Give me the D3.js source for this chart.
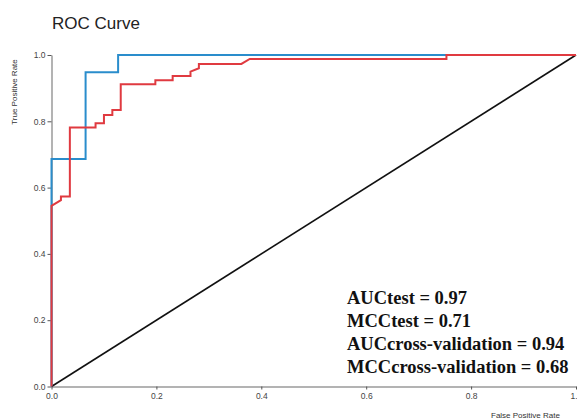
<!DOCTYPE html>
<html>
<head>
<meta charset="utf-8">
<script src="https://cdn.jsdelivr.net/npm/d3@7"></script>
<style>
  body { margin: 0; background: #fff; }
  svg { display: block; }
</style>
</head>
<body>
<svg id="chart" width="577" height="419"></svg>
<script>
// test curve (blue)
const testFpr = [0, 0, 0.065, 0.065, 0.127, 0.127, 1];
const testTpr = [0, 0.686, 0.686, 0.948, 0.948, 1, 1];

// cross-validation curve (red)
const cvFpr = [0, 0, 0.018, 0.018, 0.035, 0.035, 0.084, 0.084, 0.1, 0.1, 0.116, 0.116,
  0.132, 0.132, 0.198, 0.198, 0.231, 0.231, 0.265, 0.265, 0.281, 0.281, 0.362, 0.378,
  0.753, 0.753, 1];
const cvTpr = [0, 0.545, 0.562, 0.573, 0.573, 0.781, 0.781, 0.794, 0.794, 0.819, 0.819, 0.834,
  0.834, 0.912, 0.912, 0.924, 0.924, 0.937, 0.937, 0.95, 0.96, 0.973, 0.973, 0.988,
  0.988, 1, 1];

const xTicks = [0, 0.2, 0.4, 0.6, 0.8, 1];
const yTicks = [0, 0.2, 0.4, 0.6, 0.8, 1];

const metrics = [
  "AUCtest = 0.97",
  "MCCtest = 0.71",
  "AUCcross-validation = 0.94",
  "MCCcross-validation = 0.68"
];

const svg = d3.select("#chart");

const x = d3.scaleLinear().domain([0, 1]).range([51.5, 576]);
const y = d3.scaleLinear().domain([0, 1]).range([386.5, 55]);

svg.append("text")
  .attr("x", 52)
  .attr("y", 29)
  .attr("font-family", "Liberation Sans, Arial, sans-serif")
  .attr("font-size", 17)
  .attr("fill", "#222")
  .text("ROC Curve");

const fmt = d => d === 1 ? "1." : d3.format(".1f")(d);

function styleAxis(g) {
  g.select(".domain").attr("stroke", "#9a9a9a").attr("stroke-width", 1.5);
  g.selectAll(".tick line").attr("stroke", "#555");
  g.selectAll(".tick text")
    .attr("fill", "#444")
    .attr("font-family", "Liberation Sans, Arial, sans-serif")
    .attr("font-size", 8.5);
}

svg.append("g")
  .attr("transform", `translate(0,${y(0)})`)
  .call(d3.axisBottom(x).tickValues(xTicks).tickFormat(fmt).tickSize(3).tickSizeOuter(0).tickPadding(3))
  .call(styleAxis)
  .call(g => g.selectAll(".tick text").filter(d => d === 1).attr("text-anchor", "end").attr("dx", 1));

svg.append("g")
  .attr("transform", `translate(${x(0)},0)`)
  .call(d3.axisLeft(y).tickValues(yTicks).tickFormat(d3.format(".1f")).tickSize(4).tickSizeOuter(0).tickPadding(2))
  .call(styleAxis);

svg.append("text")
  .attr("transform", "translate(17,92) rotate(-90)")
  .attr("text-anchor", "middle")
  .attr("font-family", "Liberation Sans, Arial, sans-serif")
  .attr("font-size", 8)
  .attr("fill", "#333")
  .text("True Positive Rate");

svg.append("text")
  .attr("x", 491)
  .attr("y", 418)
  .attr("font-family", "Liberation Sans, Arial, sans-serif")
  .attr("font-size", 8)
  .attr("fill", "#333")
  .text("False Positive Rate");

// diagonal reference
svg.append("line")
  .attr("x1", x(0)).attr("y1", y(0))
  .attr("x2", x(1)).attr("y2", y(1))
  .attr("stroke", "#111")
  .attr("stroke-width", 1.6);

const line = d3.line().x(d => x(d[0])).y(d => y(d[1]));

svg.append("path")
  .datum(d3.zip(testFpr, testTpr))
  .attr("d", line)
  .attr("fill", "none")
  .attr("stroke", "#2a8dcc")
  .attr("stroke-width", 2);

svg.append("path")
  .datum(d3.zip(cvFpr, cvTpr))
  .attr("d", line)
  .attr("fill", "none")
  .attr("stroke", "#e03a40")
  .attr("stroke-width", 2);

svg.append("g")
  .selectAll("text")
  .data(metrics)
  .join("text")
  .attr("x", 347)
  .attr("y", (d, i) => 303.5 + i * 23.2)
  .attr("font-family", "Liberation Serif, Times New Roman, serif")
  .attr("font-weight", "bold")
  .attr("font-size", 18.5)
  .attr("fill", "#111")
  .text(d => d);
</script>
</body>
</html>
